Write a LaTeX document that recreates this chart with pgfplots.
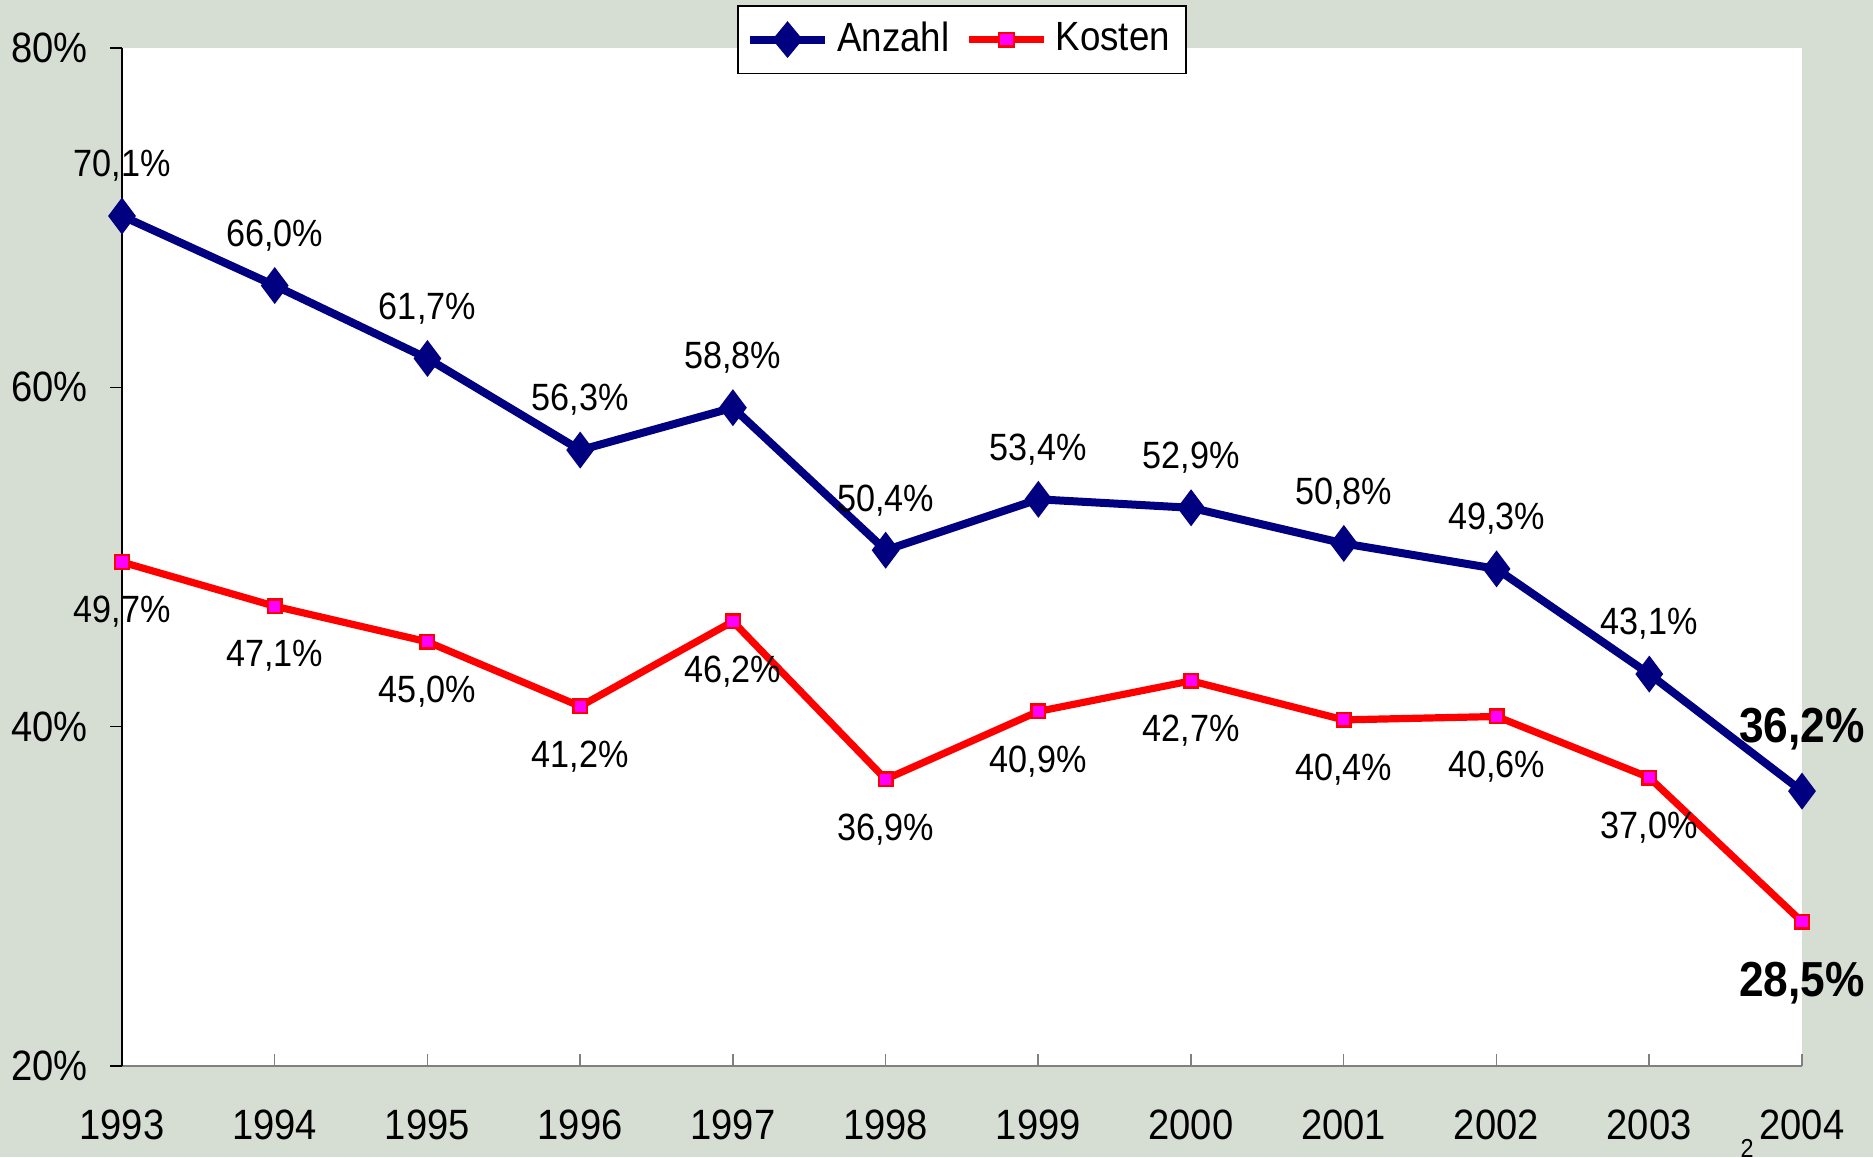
\documentclass[border=0pt]{standalone}
\usepackage{fontspec}
\setmainfont{Liberation Sans}[FakeStretch=0.9]
\usepackage{pgfplots}
\pgfplotsset{compat=1.18}
\definecolor{bgc}{RGB}{214,222,212}
\definecolor{navy}{RGB}{0,0,128}
\definecolor{magent}{RGB}{255,0,255}
\begin{document}
\begin{tikzpicture}
\fill[bgc] (-30.5pt,-22.75pt) rectangle (437.75pt,266.5pt);
\useasboundingbox (-30.5pt,-22.75pt) rectangle (437.75pt,266.5pt);
\begin{axis}[
    at={(0,0)}, anchor=south west,
    scale only axis, width=420pt, height=254.5pt,
    xmin=1993, xmax=2004, ymin=20, ymax=80,
    clip=false,
    axis lines=left, axis line style={-},
    x axis line style={gray},
    axis background/.style={fill=white},
    xtick={1993,...,2004}, ytick={20,40,60,80},
    /pgf/number format/assume math mode=true,
    /pgf/number format/1000 sep={},
    yticklabel={\pgfmathprintnumber{\tick}\%},
    xtick align=inside, ytick align=outside,
    major tick length=3pt,
    tick style={black, thin},
    xtick style={gray},
    ticklabel style={font=\fontsize{10.6}{12}\selectfont},
    xticklabel style={yshift=-7.5pt},
    yticklabel style={xshift=-2pt},
    legend style={at={(0.5,1)}, anchor=north, yshift=10.75pt, legend columns=2,
        draw=black, fill=white, font=\fontsize{10.2}{12}\selectfont,
        inner sep=2pt,
        /tikz/every even column/.append style={column sep=2pt}},
    legend image post style={xscale=1.1},
]
\addplot[navy, line width=2pt, mark=diamond*, mark size=4.3pt,
    mark options={fill=navy, draw=navy, line width=0.4pt}] coordinates {
(1993,70.1) (1994,66.0) (1995,61.7) (1996,56.3) (1997,58.8) (1998,50.4)
(1999,53.4) (2000,52.9) (2001,50.8) (2002,49.3) (2003,43.1) (2004,36.2)
};
\addlegendentry{Anzahl}
\addplot[red, line width=1.8pt, mark=square*, mark size=1.7pt,
    mark options={fill=magent, draw=red, line width=0.6pt}] coordinates {
(1993,49.7) (1994,47.1) (1995,45.0) (1996,41.2) (1997,46.2) (1998,36.9)
(1999,40.9) (2000,42.7) (2001,40.4) (2002,40.6) (2003,37.0) (2004,28.5)
};
\addlegendentry{Kosten}
% data labels
\addplot[draw=none, forget plot, point meta=y,
    nodes near coords={\pgfmathprintnumber[fixed,fixed zerofill,precision=1,use comma]{\pgfplotspointmeta}\%},
    every node near coord/.append style={anchor=center, yshift=12.5pt, font=\fontsize{9.5}{11}\selectfont, black}] coordinates {
(1993,70.1) (1994,66.0) (1995,61.7) (1996,56.3) (1997,58.8) (1998,50.4)
(1999,53.4) (2000,52.9) (2001,50.8) (2002,49.3) (2003,43.1)
};
\addplot[draw=none, forget plot, point meta=y,
    nodes near coords={\pgfmathprintnumber[fixed,fixed zerofill,precision=1,use comma]{\pgfplotspointmeta}\%},
    every node near coord/.append style={anchor=center, yshift=-12.5pt, font=\fontsize{9.5}{11}\selectfont, black}] coordinates {
(1993,49.7) (1994,47.1) (1995,45.0) (1996,41.2) (1997,46.2) (1998,36.9)
(1999,40.9) (2000,42.7) (2001,40.4) (2002,40.6) (2003,37.0)
};
\addplot[draw=none, forget plot, point meta=y,
    nodes near coords={\pgfmathprintnumber[fixed,fixed zerofill,precision=1,use comma]{\pgfplotspointmeta}\%},
    every node near coord/.append style={anchor=center, yshift=15.5pt, font=\fontsize{12.3}{14}\selectfont\bfseries, black}] coordinates {
(2004,36.2)
};
\addplot[draw=none, forget plot, point meta=y,
    nodes near coords={\pgfmathprintnumber[fixed,fixed zerofill,precision=1,use comma]{\pgfplotspointmeta}\%},
    every node near coord/.append style={anchor=center, yshift=-15.25pt, font=\fontsize{12.3}{14}\selectfont\bfseries, black}] coordinates {
(2004,28.5)
};
\end{axis}
\node[font=\fontsize{6.5}{7}\selectfont] at (406.25pt,-20.5pt) {2};
\end{tikzpicture}
\end{document}
